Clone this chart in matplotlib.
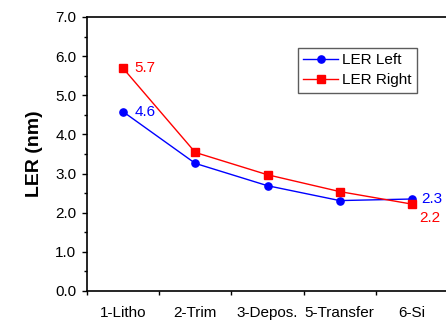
import matplotlib
matplotlib.use("Agg")
import matplotlib.pyplot as plt
from matplotlib.ticker import MultipleLocator, FixedLocator, NullFormatter, FormatStrFormatter

categories = ["1-Litho", "2-Trim", "3-Depos.", "5-Transfer", "6-Si"]
ler_left = [4.58, 3.26, 2.69, 2.31, 2.35]
ler_right = [5.69, 3.54, 2.97, 2.54, 2.22]
labels_left = {0: "4.6", 4: "2.3"}
labels_right = {0: "5.7", 4: "2.2"}

plt.rcParams['font.family'] = ['Liberation Sans', 'DejaVu Sans']

fig = plt.figure(figsize=(4.46, 3.23), dpi=100)
W, H = 446, 323
ax = fig.add_axes([87 / W, 1 - 291 / H, (448 - 87) / W, (291 - 17) / H])

x = [i + 0.5 for i in range(len(categories))]
ax.plot(x, ler_left, color='#0000ff', marker='o', markersize=5.2, lw=1.0, label='LER Left', clip_on=False, zorder=3)
ax.plot(x, ler_right, color='#ff0000', marker='s', markersize=5.2, lw=1.0, label='LER Right', clip_on=False, zorder=3)

ax.set_xlim(0, 5)
ax.set_ylim(0, 7)
ax.xaxis.set_major_locator(FixedLocator([0, 1, 2, 3, 4, 5]))
ax.xaxis.set_major_formatter(NullFormatter())
ax.xaxis.set_minor_locator(FixedLocator(x))
ax.set_xticklabels(categories, minor=True)
ax.tick_params(axis='x', which='minor', length=0, pad=11, labelsize=11)
ax.tick_params(axis='x', which='major', length=3, width=1, direction='out')

ax.yaxis.set_major_locator(MultipleLocator(1))
ax.yaxis.set_minor_locator(MultipleLocator(0.5))
ax.yaxis.set_major_formatter(FormatStrFormatter('%.1f'))
ax.tick_params(axis='y', which='major', length=3.6, width=1, direction='out', labelsize=11, pad=4)
ax.tick_params(axis='y', which='minor', length=2.2, width=1, direction='out')

for s in ['left', 'bottom', 'top']:
    ax.spines[s].set_linewidth(1.2)
ax.spines['right'].set_visible(False)

ax.set_ylabel('LER (nm)', fontsize=14, fontweight='bold', labelpad=9)

offsets_left = {0: (8, 0), 4: (7, 0)}
offsets_right = {0: (8, 0), 4: (5, -10)}
for i, t in labels_left.items():
    ax.annotate(t, (x[i], ler_left[i]), xytext=offsets_left[i], textcoords='offset points',
                color='#0000ff', fontsize=11, va='center', ha='left', annotation_clip=False)
for i, t in labels_right.items():
    ax.annotate(t, (x[i], ler_right[i]), xytext=offsets_right[i], textcoords='offset points',
                color='#ff0000', fontsize=11, va='center', ha='left', annotation_clip=False)

leg = ax.legend(loc='upper left', bbox_to_anchor=((298 - 87) / (448 - 87), 1 - (48 - 17) / (291 - 17)),
                frameon=True, fancybox=False, edgecolor='#333333', fontsize=11,
                handlelength=2.3, handletextpad=0.25, borderpad=0.35, labelspacing=0.4,
                borderaxespad=0)
leg.get_frame().set_linewidth(1.0)

fig.savefig('out.png', dpi=100)
